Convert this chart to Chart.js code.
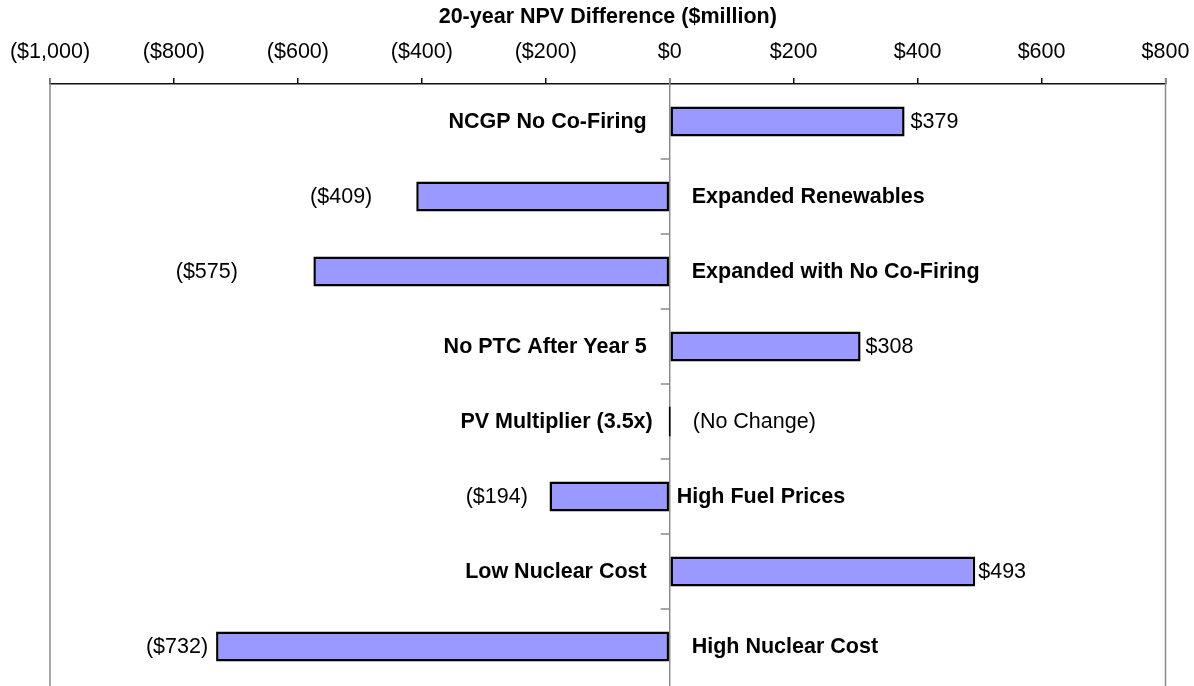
<!DOCTYPE html>
<html>
<head>
<meta charset="utf-8">
<script src="https://cdn.jsdelivr.net/npm/chart.js@4/dist/chart.umd.min.js"></script>
<style>
html,body{margin:0;padding:0;background:#fff;}
#wrap{width:1194px;height:686px;position:relative;}
</style>
</head>
<body>
<div id="wrap"><canvas id="c"></canvas></div>
<script>
const categories = [
  'NCGP No Co-Firing',
  'Expanded Renewables',
  'Expanded with No Co-Firing',
  'No PTC After Year 5',
  'PV Multiplier (3.5x)',
  'High Fuel Prices',
  'Low Nuclear Cost',
  'High Nuclear Cost'
];
const npvDifference = [379, -409, -575, 308, 0, -194, 493, -732];
const xTickValues = [-1000, -800, -600, -400, -200, 0, 200, 400, 600, 800];
const axisTitle = '20-year NPV Difference ($million)';
const zeroLabel = '(No Change)';

const FONT = '"Liberation Sans", Arial, sans-serif';
const FSIZE = 21.5;

function fmtMoney(v) {
  const s = '$' + Math.abs(v).toLocaleString('en-US');
  return v < 0 ? '(' + s + ')' : s;
}

const chartDecor = {
  id: 'chartDecor',
  beforeDatasetsDraw(chart, args, opts) {
    const ctx = chart.ctx;
    const xs = chart.scales.x, ys = chart.scales.y;
    const top = xs.bottom - 6;
    const bottom = chart.height;
    const x0 = xs.getPixelForValue(0);
    ctx.save();
    ctx.strokeStyle = '#8a8a8a';
    ctx.lineWidth = 1.5;
    [xs.left, xs.right, x0].forEach(px => {
      ctx.beginPath();
      ctx.moveTo(px, top);
      ctx.lineTo(px, bottom);
      ctx.stroke();
    });
    for (let i = 0; i < categories.length - 1; i++) {
      const yb = (ys.getPixelForValue(i) + ys.getPixelForValue(i + 1)) / 2;
      ctx.beginPath();
      ctx.moveTo(x0 - 9, yb);
      ctx.lineTo(x0, yb);
      ctx.stroke();
    }
    ctx.restore();
  },
  afterDatasetsDraw(chart, args, opts) {
    const ctx = chart.ctx;
    const xs = chart.scales.x;
    const x0 = xs.getPixelForValue(0);
    const meta = chart.getDatasetMeta(0);
    ctx.save();
    ctx.fillStyle = '#000';
    ctx.textBaseline = 'middle';
    meta.data.forEach((bar, i) => {
      const v = npvDifference[i];
      const y = bar.y + 1;
      ctx.font = 'normal ' + FSIZE + 'px ' + FONT;
      const vg = opts.valueGap[i];
      if (v > 0) {
        ctx.textAlign = 'left';
        ctx.fillText(fmtMoney(v), xs.getPixelForValue(v) + vg, y);
      } else if (v < 0) {
        ctx.textAlign = 'right';
        ctx.fillText(fmtMoney(v), xs.getPixelForValue(v) - vg, y);
      } else {
        ctx.textAlign = 'left';
        ctx.fillText(zeroLabel, x0 + vg, y);
      }
      ctx.font = 'bold ' + FSIZE + 'px ' + FONT;
      const cg = opts.categoryGap[i];
      if (v >= 0) {
        ctx.textAlign = 'right';
        ctx.fillText(categories[i], x0 - cg, y);
      } else {
        ctx.textAlign = 'left';
        ctx.fillText(categories[i], x0 + cg, y);
      }
    });
    ctx.restore();
  }
};

new Chart(document.getElementById('c'), {
  type: 'bar',
  data: {
    labels: categories,
    datasets: [{
      data: npvDifference,
      backgroundColor: '#9999FF',
      borderColor: '#000000',
      borderWidth: 2.5,
      borderSkipped: false,
      barPercentage: 0.4,
      categoryPercentage: 1.0,
      minBarLength: 2
    }]
  },
  options: {
    indexAxis: 'y',
    responsive: true,
    maintainAspectRatio: false,
    animation: false,
    events: [],
    layout: { padding: { left: 50, right: 28.5, top: 0, bottom: 2 } },
    plugins: {
      legend: { display: false },
      tooltip: { enabled: false },
      chartDecor: {
        valueGap: [6, 44, 75.5, 5, 23, 21.7, 3, 8],
        categoryGap: [23, 22, 22, 23, 17, 7, 23, 22]
      }
    },
    scales: {
      x: {
        position: 'top',
        min: -1000,
        max: 800,
        afterBuildTicks: (scale) => { scale.ticks = xTickValues.map(v => ({ value: v })); },
        ticks: {
          autoSkip: false,
          maxRotation: 0,
          padding: 13,
          color: '#000',
          font: { family: FONT, size: FSIZE },
          callback: (v) => fmtMoney(v)
        },
        grid: {
          drawOnChartArea: false,
          drawTicks: true,
          tickLength: 6,
          color: '#111',
          lineWidth: 1.5
        },
        border: { display: true, color: '#111', width: 1.5 },
        title: {
          display: true,
          text: axisTitle,
          color: '#000',
          font: { family: FONT, size: FSIZE, weight: 'bold' },
          padding: { top: 4, bottom: 0 }
        },
        afterFit: (scale) => {
          scale.height = 84;
          scale.paddingLeft = 0;
          scale.paddingRight = 0;
        }
      },
      y: {
        display: false,
        grid: { display: false }
      }
    }
  },
  plugins: [chartDecor]
});
</script>
</body>
</html>
